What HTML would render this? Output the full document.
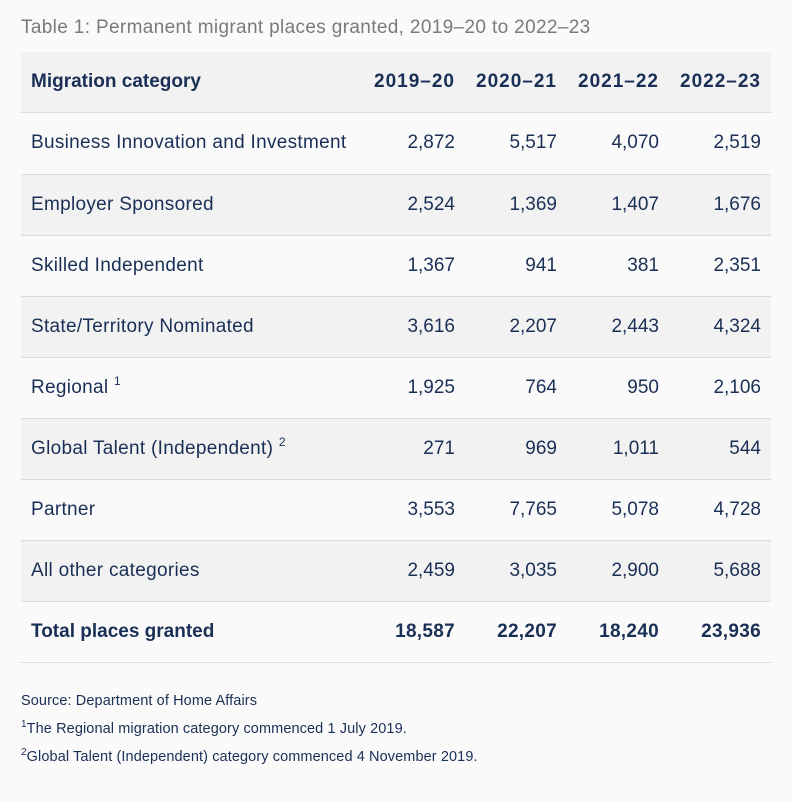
<!DOCTYPE html>
<html><head><meta charset="utf-8">
<style>
html,body{margin:0;padding:0;background:#fafafa;}
body{width:792px;height:802px;position:relative;overflow:hidden;font-family:"Liberation Sans",Arial,sans-serif;color:#1a2f55;}
.title{position:absolute;left:21px;top:17px;font-size:19px;color:#7a7a7a;white-space:nowrap;letter-spacing:0.35px;}
.row{position:absolute;left:21px;width:750px;border-bottom:1px solid #dcdcdc;}
.g{background:#f2f2f2;}
.c{position:absolute;top:0;white-space:nowrap;font-size:19px;}
.l{left:10px;letter-spacing:0.3px;}
.l.b{letter-spacing:0;}
.n{text-align:right;width:100px;}
.n1{left:334px;}.n2{left:436px;}.n3{left:538px;}.n4{left:640px;}
.b{font-weight:bold;}
.y{letter-spacing:1px;margin-left:0px;}
.t{letter-spacing:0.3px;}
sup{font-size:12px;vertical-align:0;position:relative;top:-8px;}
.fn{position:absolute;left:21px;font-size:14.5px;white-space:nowrap;letter-spacing:0.1px;}
.fn sup{font-size:10px;top:-6px;}
</style></head><body>
<div class="title">Table 1: Permanent migrant places granted, 2019–20 to 2022–23</div>

<div class="row g" style="top:52px;height:60px;line-height:60px;">
<div class="c l b">Migration category</div>
<div class="c n n1 b y">2019–20</div><div class="c n n2 b y">2020–21</div><div class="c n n3 b y">2021–22</div><div class="c n n4 b y">2022–23</div>
</div>

<div class="row" style="top:113px;height:61px;line-height:60px;">
<div class="c l">Business Innovation and Investment</div>
<div class="c n n1">2,872</div><div class="c n n2">5,517</div><div class="c n n3">4,070</div><div class="c n n4">2,519</div>
</div>

<div class="row g" style="top:175px;height:60px;line-height:60px;">
<div class="c l">Employer Sponsored</div>
<div class="c n n1">2,524</div><div class="c n n2">1,369</div><div class="c n n3">1,407</div><div class="c n n4">1,676</div>
</div>

<div class="row" style="top:236px;height:60px;line-height:60px;">
<div class="c l">Skilled Independent</div>
<div class="c n n1">1,367</div><div class="c n n2">941</div><div class="c n n3">381</div><div class="c n n4">2,351</div>
</div>

<div class="row g" style="top:297px;height:60px;line-height:60px;">
<div class="c l">State/Territory Nominated</div>
<div class="c n n1">3,616</div><div class="c n n2">2,207</div><div class="c n n3">2,443</div><div class="c n n4">4,324</div>
</div>

<div class="row" style="top:358px;height:60px;line-height:60px;">
<div class="c l">Regional <sup>1</sup></div>
<div class="c n n1">1,925</div><div class="c n n2">764</div><div class="c n n3">950</div><div class="c n n4">2,106</div>
</div>

<div class="row g" style="top:419px;height:60px;line-height:60px;">
<div class="c l">Global Talent (Independent) <sup>2</sup></div>
<div class="c n n1">271</div><div class="c n n2">969</div><div class="c n n3">1,011</div><div class="c n n4">544</div>
</div>

<div class="row" style="top:480px;height:60px;line-height:60px;">
<div class="c l">Partner</div>
<div class="c n n1">3,553</div><div class="c n n2">7,765</div><div class="c n n3">5,078</div><div class="c n n4">4,728</div>
</div>

<div class="row g" style="top:541px;height:60px;line-height:60px;">
<div class="c l">All other categories</div>
<div class="c n n1">2,459</div><div class="c n n2">3,035</div><div class="c n n3">2,900</div><div class="c n n4">5,688</div>
</div>

<div class="row" style="top:602px;height:60px;line-height:60px;">
<div class="c l b">Total places granted</div>
<div class="c n n1 b t">18,587</div><div class="c n n2 b t">22,207</div><div class="c n n3 b t">18,240</div><div class="c n n4 b t">23,936</div>
</div>

<div class="fn" style="top:693px;">Source: Department of Home Affairs</div>
<div class="fn" style="top:721px;"><sup>1</sup>The Regional migration category commenced 1 July 2019.</div>
<div class="fn" style="top:749px;"><sup>2</sup>Global Talent (Independent) category commenced 4 November 2019.</div>
</body></html>
